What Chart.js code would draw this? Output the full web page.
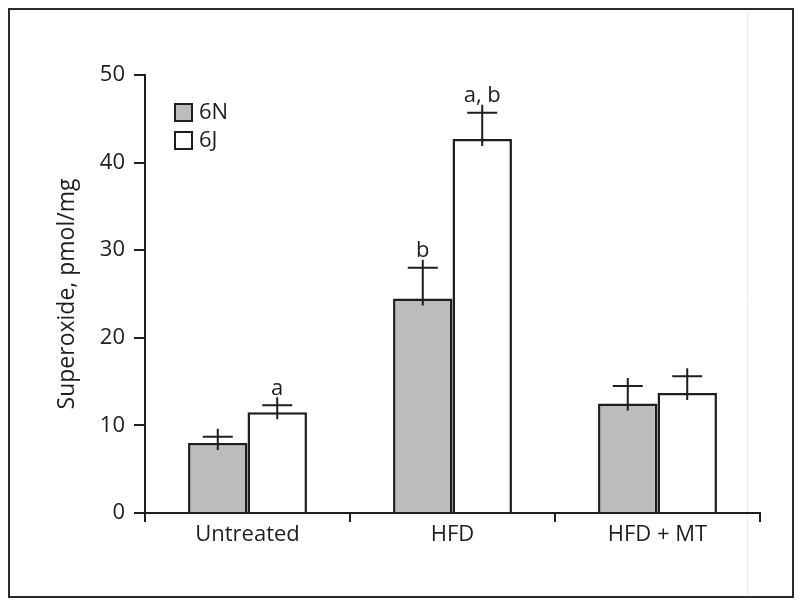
<!DOCTYPE html>
<html>
<head>
<meta charset="utf-8">
<script src="https://cdn.jsdelivr.net/npm/chart.js@4/dist/chart.umd.min.js"></script>
<style>
html,body{margin:0;padding:0;background:#fff;}
canvas{display:block;}
</style>
</head>
<body>
<canvas id="c" width="800" height="606"></canvas>
<script>
const categories = ['Untreated', 'HFD', 'HFD + MT'];
const seriesNames = ['6N', '6J'];
const values6N = [8.0, 24.5, 12.5];
const values6J = [11.5, 42.7, 13.7];
const err6N = [0.7, 3.5, 2.0];
const err6J = [0.8, 3.0, 1.9];
const letters6N = ['', 'b', ''];
const letters6J = ['a', 'a, b', ''];
const yTicks = [0, 10, 20, 30, 40, 50];

const FONT = "'Open Sans', 'Noto Sans', sans-serif";
const INK = '#1e1e1e';
const GREY = '#bcbcbc';
const FS = 22;

const errors = [err6N, err6J];
const letters = [letters6N, letters6J];

const framePlugin = {
  id: 'frame',
  beforeDraw(chart) {
    const ctx = chart.ctx;
    ctx.save();
    ctx.fillStyle = '#fff';
    ctx.fillRect(0, 0, chart.width, chart.height);
    ctx.strokeStyle = '#eaeaea';
    ctx.lineWidth = 1;
    ctx.beginPath();
    ctx.moveTo(747.5, 11);
    ctx.lineTo(747.5, 596);
    ctx.stroke();
    ctx.strokeStyle = '#2a2a2a';
    ctx.lineWidth = 2;
    ctx.strokeRect(9, 9, 784, 588);
    ctx.restore();
  }
};

const errPlugin = {
  id: 'errbars',
  afterDatasetsDraw(chart) {
    const ctx = chart.ctx;
    const y = chart.scales.y;
    ctx.save();
    ctx.strokeStyle = INK;
    ctx.lineWidth = 2;
    ctx.fillStyle = INK;
    ctx.font = FS + 'px ' + FONT;
    ctx.textAlign = 'center';
    ctx.textBaseline = 'bottom';
    chart.data.datasets.forEach((ds, i) => {
      const meta = chart.getDatasetMeta(i);
      meta.data.forEach((bar, j) => {
        const v = ds.data[j];
        const top = y.getPixelForValue(v);
        const cap = y.getPixelForValue(v + errors[i][j]);
        ctx.beginPath();
        ctx.moveTo(bar.x, top + 7);
        ctx.lineTo(bar.x, cap - 8);
        ctx.moveTo(bar.x - 15, cap);
        ctx.lineTo(bar.x + 15, cap);
        ctx.stroke();
        const t = letters[i][j];
        if (t) ctx.fillText(t, bar.x, cap - 6);
      });
    });
    // legend
    const items = [[GREY, seriesNames[0], 104], ['#fff', seriesNames[1], 132]];
    ctx.textAlign = 'left';
    ctx.textBaseline = 'middle';
    items.forEach(([fill, label, top]) => {
      ctx.fillStyle = fill;
      ctx.fillRect(175, top, 17, 17);
      ctx.strokeStyle = INK;
      ctx.lineWidth = 2;
      ctx.strokeRect(175, top, 17, 17);
      ctx.fillStyle = INK;
      ctx.fillText(label, 199, top + 9);
    });
    ctx.restore();
  }
};

new Chart(document.getElementById('c'), {
  type: 'bar',
  data: {
    labels: categories,
    datasets: [
      { label: seriesNames[0], data: values6N, backgroundColor: GREY, borderColor: INK, borderWidth: 2.5, borderSkipped: 'bottom' },
      { label: seriesNames[1], data: values6J, backgroundColor: '#ffffff', borderColor: INK, borderWidth: 2.5, borderSkipped: 'bottom' }
    ]
  },
  options: {
    responsive: false,
    animation: false,
    devicePixelRatio: 1,
    categoryPercentage: 0.58,
    barPercentage: 1.0,
    layout: { padding: { left: 50, top: 75, right: 40, bottom: 0 } },
    plugins: { legend: { display: false }, tooltip: { enabled: false } },
    scales: {
      x: {
        afterFit(scale) { scale.height = 93; },
        grid: { display: true, drawOnChartArea: false, drawTicks: true, tickLength: 9, color: INK, lineWidth: 2, offset: true },
        border: { display: true, color: INK, width: 2 },
        ticks: { color: INK, font: { family: FONT, size: FS }, padding: 0 }
      },
      y: {
        min: 0, max: 50,
        afterFit(scale) { scale.width = 95; },
        afterBuildTicks(scale) { scale.ticks = yTicks.map(v => ({ value: v })); },
        grid: { display: true, drawOnChartArea: false, drawTicks: true, tickLength: 11, color: INK, lineWidth: 2 },
        border: { display: true, color: INK, width: 2 },
        ticks: { color: INK, font: { family: FONT, size: FS }, padding: 9 },
        title: { display: true, text: 'Superoxide, pmol/mg', color: INK, font: { family: FONT, size: 23 }, padding: { top: 4, bottom: 4 } }
      }
    }
  },
  plugins: [framePlugin, errPlugin]
});
</script>
</body>
</html>
